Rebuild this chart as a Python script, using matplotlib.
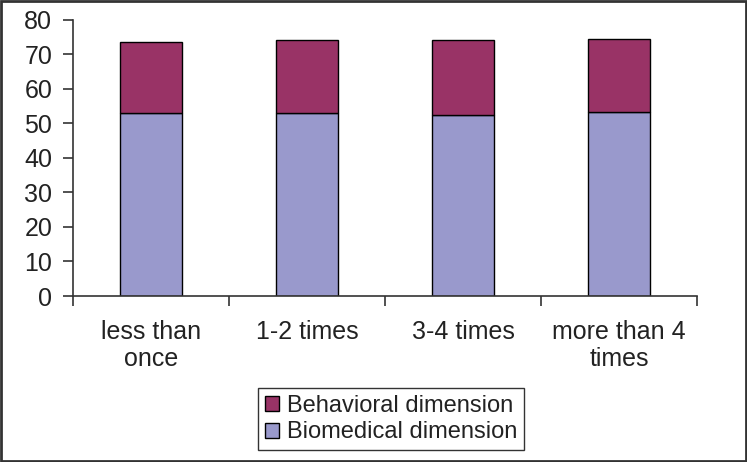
import matplotlib.pyplot as plt
import numpy as np
from matplotlib.patches import Rectangle

plt.rcParams['font.family'] = ['Liberation Sans', 'DejaVu Sans']

categories = ['less than\nonce', '1-2 times', '3-4 times', 'more than 4\ntimes']
biomedical = [53.1, 53.1, 52.3, 53.2]
behavioral = [20.5, 20.9, 21.7, 21.2]

fig = plt.figure(figsize=(7.47, 4.62), dpi=100)
ax = fig.add_axes([73 / 747, 1 - 296 / 462, (697 - 73) / 747, (296 - 19.7) / 462])

x = np.arange(len(categories))
ax.bar(x, biomedical, width=0.4, color='#9999CC', edgecolor='black', linewidth=1,
       label='Biomedical dimension')
ax.bar(x, behavioral, width=0.4, bottom=biomedical, color='#993366', edgecolor='black',
       linewidth=1, label='Behavioral dimension')

ax.set_xlim(-0.5, len(categories) - 0.5)
ax.set_ylim(0, 80)
ax.set_yticks(range(0, 81, 10))
ax.tick_params(axis='y', labelsize=18, length=7, width=1.2, pad=8,
               colors='#333333', labelcolor='#222222')

# category labels between boundary ticks
ax.set_xticks(np.arange(-0.5, len(categories), 1))
ax.set_xticklabels([])
ax.tick_params(axis='x', length=7, width=1.2, colors='#333333')
ax.set_xticks(x, minor=True)
ax.set_xticklabels(categories, minor=True, fontsize=18, color='#222222', va='top')
ax.tick_params(axis='x', which='minor', length=0, pad=17)

for s in ['top', 'right']:
    ax.spines[s].set_visible(False)
for s in ['left', 'bottom']:
    ax.spines[s].set_linewidth(1.2)
    ax.spines[s].set_color('#333333')

handles, labels = ax.get_legend_handles_labels()
leg = fig.legend(handles[::-1], labels[::-1], loc='center', bbox_to_anchor=(391 / 747, 1 - 419 / 462),
                 fontsize=17, frameon=True, fancybox=False, edgecolor='black',
                 handlelength=0.6, handleheight=0.6, handletextpad=0.35, borderpad=0.3,
                 labelspacing=0.2, borderaxespad=0)
leg.get_frame().set_linewidth(1)
for t in leg.get_texts():
    t.set_color('#222222')

fig.patches.append(Rectangle((0.002, 0.002), 0.996, 0.996, transform=fig.transFigure,
                             fill=False, edgecolor='#333333', linewidth=2))

fig.savefig('out.png', dpi=100)
